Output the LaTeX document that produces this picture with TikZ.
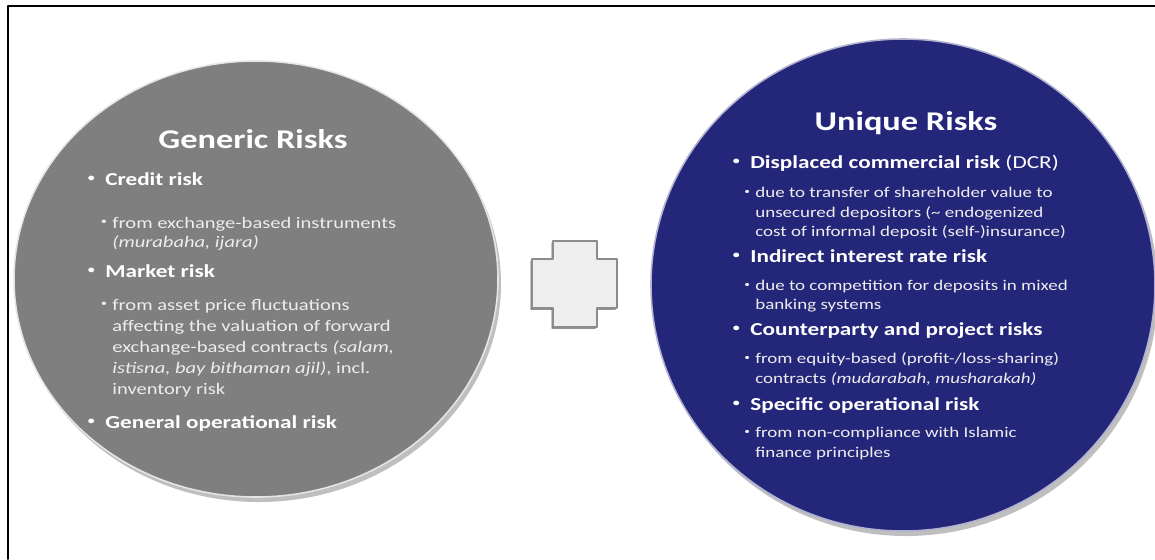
\documentclass[tikz,border=0pt]{standalone}
\usepackage{fontspec}
\setmainfont{Carlito}[FakeStretch=1.27]
\definecolor{riskgrey}{RGB}{127,127,127}
\definecolor{riskblue}{RGB}{36,38,122}
\definecolor{plusfill}{RGB}{238,238,238}
\newcommand{\itembul}[1]{\llap{\raisebox{0.4ex}{\scalebox{0.6}{\textbullet}}\kern#1}}
\tikzset{
  head/.style={text=white, font=\fontsize{15.4}{18}\selectfont\bfseries, anchor=base, inner sep=0pt},
  lvlone/.style={text=white, font=\fontsize{10.4}{12}\selectfont\bfseries, anchor=base west, inner sep=0pt},
  lvltwo/.style={text=white!93!black, font=\fontsize{9.2}{11}\selectfont, anchor=base west, inner sep=0pt},
  lvltwor/.style={lvltwo, font=\fontsize{8.5}{10}\selectfont},
}

\begin{document}
\begin{tikzpicture}[x=0.02cm,y=-0.02cm,line cap=round,line join=round]
\useasboundingbox (0,0) rectangle (1155,559);
% frame (cut at right and bottom)
\draw[line width=1.1pt] (8,559) -- (8,6) -- (1155,6);

% generic risks
\fill[black!25] (259,284) ellipse (242 and 218);
\filldraw[fill=riskgrey, draw=white!80!gray, line width=0.9pt] (256,279) ellipse (242 and 218);
\node[head] (gtitle) at (253,148) {Generic Risks};
\node[lvlone] (gcredit) at (105,185) {\itembul{6pt}Credit risk};
\node[lvltwo] (gcredita) at (112,228) {\itembul{3pt}from exchange-based instruments};
\node[lvltwo] (gcreditb) at (112,247) {\textit{(murabaha, ijara)}};
\node[lvlone] (gmarket) at (105,277) {\itembul{6pt}Market risk};
\node[lvltwo] (gmarketa) at (112,310) {\itembul{3pt}from asset price fluctuations};
\node[lvltwo] (gmarketb) at (112,331) {affecting the valuation of forward};
\node[lvltwo] (gmarketc) at (112,352) {exchange-based contracts \textit{(salam,}};
\node[lvltwo] (gmarketd) at (112,373) {\textit{istisna, bay bithaman ajil)}, incl.};
\node[lvltwo] (gmarkete) at (112,394) {inventory risk};
\node[lvlone] (goper) at (105,428) {\itembul{6pt}General operational risk};

% plus
\fill[black!65] (551.5,242.5) -- (595.5,242.5) -- (595.5,260.5) -- (615.5,260.5) -- (615.5,309.5) -- (595.5,309.5) -- (595.5,328.5)
  -- (551.5,328.5) -- (551.5,309.5) -- (530.5,309.5) -- (530.5,260.5) -- (551.5,260.5) -- cycle;
\filldraw[fill=plusfill, draw=black!45, line width=0.6pt] (553,241) -- (597,241) -- (597,259) -- (617,259) -- (617,308) -- (597,308) -- (597,327)
  -- (553,327) -- (553,308) -- (532,308) -- (532,259) -- (553,259) -- cycle;

% unique risks
\fill[black!25] (906,290) ellipse (252 and 246);
\filldraw[fill=riskblue, draw=white!65!riskblue, line width=0.9pt] (903,285) ellipse (252 and 246);
\node[head] (utitle) at (906,130) {Unique Risks};
\node[lvlone] (udcr) at (750,168) {\itembul{6pt}Displaced commercial risk \mdseries(DCR)};
\node[lvltwor] (udcra) at (755,197) {\itembul{3pt}due to transfer of shareholder value to};
\node[lvltwor] (udcrb) at (755,217) {unsecured depositors (\textasciitilde{} endogenized};
\node[lvltwor] (udcrc) at (755,236) {cost of informal deposit (self-)insurance)};
\node[lvlone] (urate) at (750,262) {\itembul{6pt}Indirect interest rate risk};
\node[lvltwor] (uratea) at (755,290) {\itembul{3pt}due to competition for deposits in mixed};
\node[lvltwor] (urateb) at (755,309) {banking systems};
\node[lvlone] (uproj) at (750,335) {\itembul{6pt}Counterparty and project risks};
\node[lvltwor] (uproja) at (755,363) {\itembul{3pt}from equity-based (profit-/loss-sharing)};
\node[lvltwor] (uprojb) at (755,383) {contracts \textit{(mudarabah, musharakah)}};
\node[lvlone] (uoper) at (750,410) {\itembul{6pt}Specific operational risk};
\node[lvltwor] (uopera) at (755,437) {\itembul{3pt}from non-compliance with Islamic};
\node[lvltwor] (uoperb) at (755,457) {finance principles};
\end{tikzpicture}
\end{document}
